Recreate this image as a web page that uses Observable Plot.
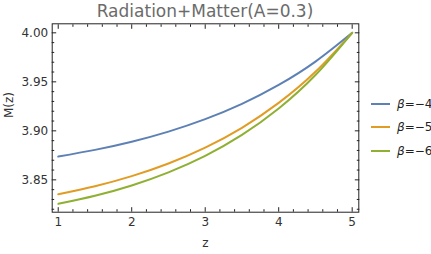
<!DOCTYPE html>
<html>
<head>
<meta charset="utf-8">
<script src="https://cdn.jsdelivr.net/npm/d3@7"></script>
<script src="https://cdn.jsdelivr.net/npm/@observablehq/plot@0.6"></script>
<style>
  body { margin: 0; background: #fff; font-family: "DejaVu Sans", sans-serif; }
  #wrap { position: relative; width: 431px; height: 254px; overflow: hidden; }
  #title { width: 410px; height: 20px; line-height: 22px; text-align: center; font-size: 17px; color: #6b6b6b; white-space: nowrap; }
  #legend { position: absolute; left: 371px; top: 92.5px; font-size: 12px; color: #222; }
  .row { height: 23.3px; display: flex; align-items: center; }
  .sw { display: inline-block; width: 19px; height: 2px; margin-right: 7px; }
  svg { display: block; }
</style>
</head>
<body>
<div id="wrap">
  <div id="title">Radiation+Matter(A=0.3)</div>
  <div id="plot"></div>
  <div id="legend"></div>
</div>
<script>
// z values
const z = [1, 1.5, 2, 2.5, 3, 3.5, 4, 4.5, 5];
// M(z) for each beta
const betaM4 = [3.8738, 3.8806, 3.8889, 3.8992, 3.9119, 3.9275, 3.9468, 3.9706, 4.0000];
const betaM5 = [3.8353, 3.8435, 3.8538, 3.8667, 3.8829, 3.9031, 3.9285, 3.9602, 4.0000];
const betaM6 = [3.8255, 3.8338, 3.8443, 3.8577, 3.8745, 3.8958, 3.9228, 3.9569, 4.0000];
const seriesNames = ["β=−4", "β=−5", "β=−6"];
const seriesColors = ["#5e81b5", "#e19c24", "#8fb032"];
const xTicks = [1, 2, 3, 4, 5];
const yTicks = [3.85, 3.90, 3.95, 4.00];

const table = [];
[betaM4, betaM5, betaM6].forEach((vals, i) => {
  vals.forEach((v, j) => table.push({z: z[j], M: v, s: seriesNames[i]}));
});

const xMinor = d3.range(0, 31).map(i => +(0.8 + i * 0.2).toFixed(2)).filter(v => v >= 0.92 && v <= 5.09 && !xTicks.includes(v));
const yMinor = d3.range(0, 20).map(i => +(3.82 + i * 0.01).toFixed(2)).filter(v => v <= 4.009 && !yTicks.map(t => t.toFixed(2)).includes(v.toFixed(2)));

const frameColor = "#222";
const tickMarks = [];
for (const anchor of ["bottom", "top"]) {
  tickMarks.push(Plot.axisX(xTicks, {anchor, tickSize: -4.5, text: null, label: null, stroke: frameColor}));
  tickMarks.push(Plot.axisX(xMinor, {anchor, tickSize: -2.5, text: null, label: null, stroke: frameColor}));
}
for (const anchor of ["left", "right"]) {
  tickMarks.push(Plot.axisY(yTicks, {anchor, tickSize: -4.5, text: null, label: null, stroke: frameColor}));
  tickMarks.push(Plot.axisY(yMinor, {anchor, tickSize: -2.5, text: null, label: null, stroke: frameColor}));
}

const chart = Plot.plot({
  width: 431,
  height: 234,
  marginTop: 3.3,
  marginBottom: 42.3,
  marginLeft: 51.7,
  marginRight: 72.7,
  style: {fontFamily: "DejaVu Sans, sans-serif", fontSize: "12px", color: "#333", background: "#fff"},
  x: {domain: [0.918, 5.09]},
  y: {domain: [3.817, 4.0092]},
  color: {domain: seriesNames, range: seriesColors},
  marks: [
    Plot.line(table, {x: "z", y: "M", z: "s", stroke: "s", strokeWidth: 2, curve: "natural"}),
    Plot.frame({stroke: frameColor, strokeWidth: 1}),
    ...tickMarks,
    Plot.axisX(xTicks, {anchor: "bottom", tickSize: 0, tickPadding: 5, label: null, tickFormat: d => String(d), fill: "#333", fontSize: 12}),
    Plot.axisY(yTicks, {anchor: "left", tickSize: 0, tickPadding: 4, label: null, tickFormat: d => d.toFixed(2), fill: "#333", fontSize: 12}),
    Plot.text(["z"], {frameAnchor: "bottom", dy: 31, text: d => d, fill: "#333", fontSize: 12, lineAnchor: "middle"}),
    Plot.text(["M(z)"], {frameAnchor: "left", dx: -43.5, rotate: -90, text: d => d, fill: "#333", fontSize: 12, lineAnchor: "middle"})
  ]
});
document.getElementById("plot").appendChild(chart);

const legend = document.getElementById("legend");
seriesNames.forEach((name, i) => {
  const row = document.createElement("div");
  row.className = "row";
  const sw = document.createElement("span");
  sw.className = "sw";
  sw.style.background = seriesColors[i];
  const label = document.createElement("span");
  label.innerHTML = "<i>β</i>" + name.slice(1);
  row.appendChild(sw);
  row.appendChild(label);
  legend.appendChild(row);
});
</script>
</body>
</html>
